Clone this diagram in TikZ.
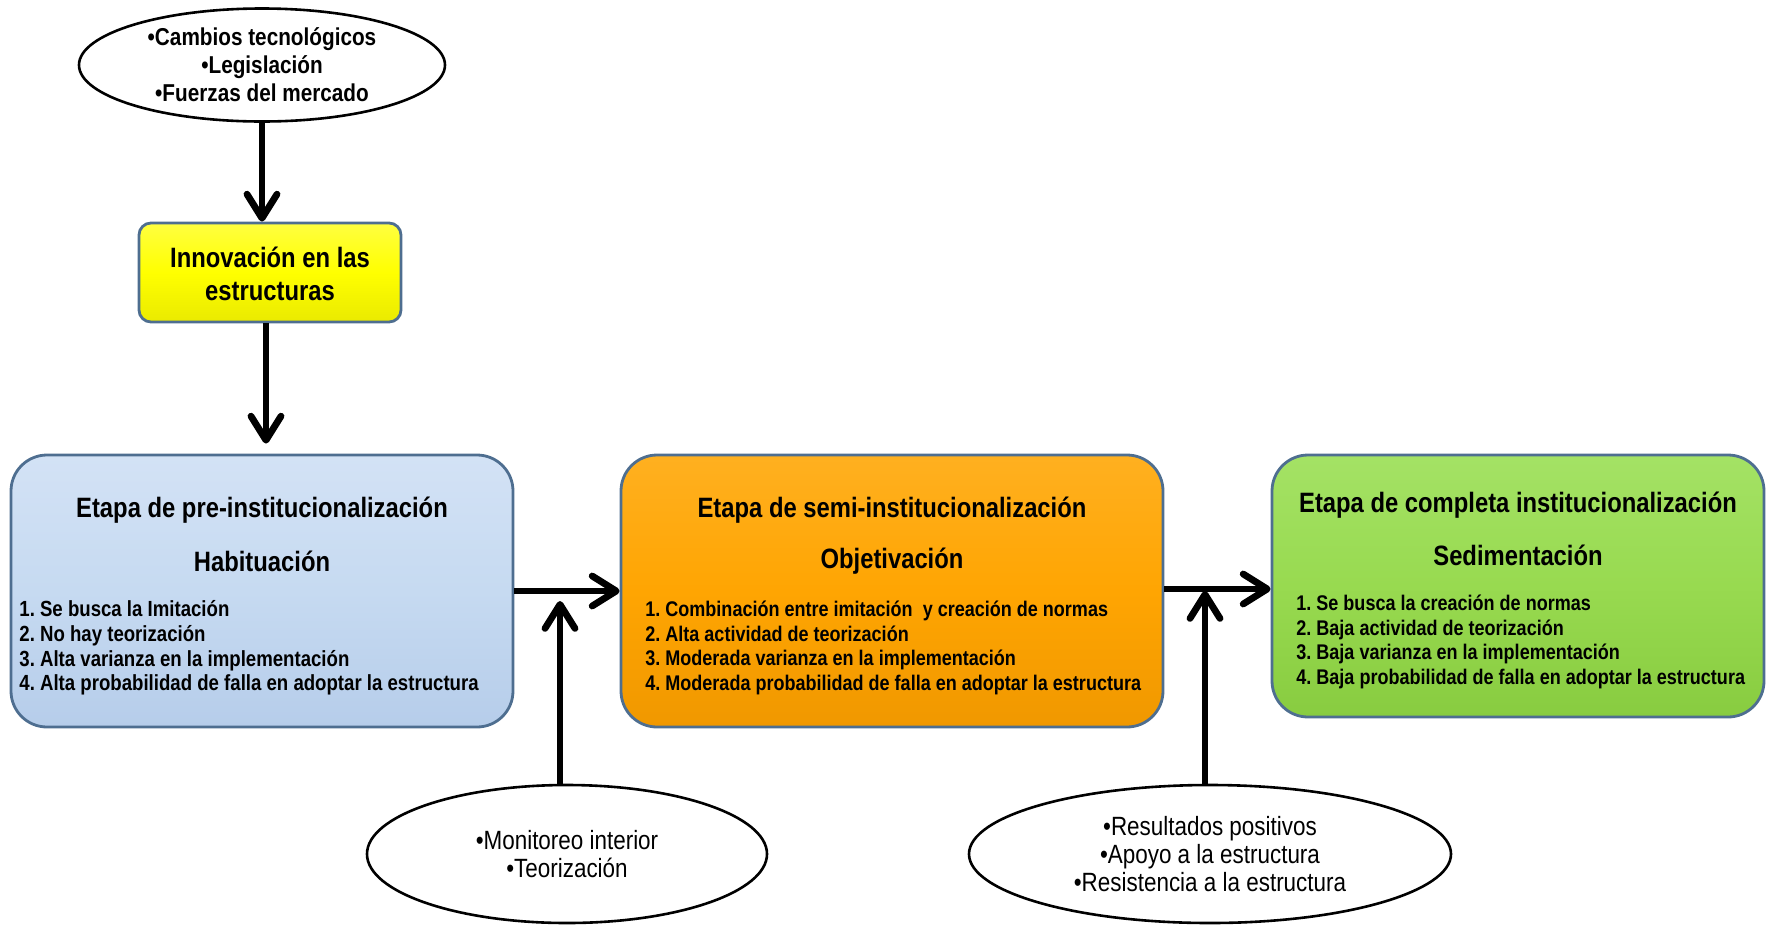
\documentclass[tikz,border=0pt]{standalone}
\usepackage{fontspec}
\setmainfont[FakeStretch=0.85]{Liberation Sans}
\usetikzlibrary{arrows.meta,shapes.geometric}
\frenchspacing

\definecolor{edgeblue}{HTML}{4E6E90}
\definecolor{blueA}{HTML}{D3E2F5}
\definecolor{blueB}{HTML}{C6DAF1}
\definecolor{blueC}{HTML}{B6CDEA}
\definecolor{orangeA}{HTML}{FFB020}
\definecolor{orangeB}{HTML}{FFA502}
\definecolor{orangeC}{HTML}{F09800}
\definecolor{greenA}{HTML}{A4E265}
\definecolor{greenB}{HTML}{98DA50}
\definecolor{greenC}{HTML}{88CC40}
\definecolor{yellowA}{HTML}{FFFF40}
\definecolor{yellowB}{HTML}{FFFF00}
\definecolor{yellowC}{HTML}{EAEA00}

\begin{document}
\begin{tikzpicture}[x=0.5pt,y=-0.5pt,
  stagebox/.style={draw=edgeblue, line width=1.4pt, rounded corners=18pt, inner sep=0pt},
  notebox/.style={draw=edgeblue, line width=1.4pt, rounded corners=6pt, inner sep=0pt},
  bubble/.style={ellipse, draw=black, line width=1.3pt, fill=white, inner sep=0pt},
  heading/.style={inner sep=0pt, font=\fontsize{14}{16}\selectfont\bfseries},
  items/.style={inner sep=0pt, align=left, font=\fontsize{#1}{12.4}\selectfont\bfseries},
  topnote/.style={align=center, inner sep=0pt, font=\fontsize{12.2}{14}\selectfont\bfseries},
  lownote/.style={align=center, inner sep=0pt, font=\fontsize{13.2}{14.2}\selectfont},
  arr/.style={line width=3.4pt, -{Straight Barb[length=12pt,width=15pt,round]}}
]
\useasboundingbox (0,0) rectangle (1767,927);

% external drivers
\node[bubble, minimum width=183pt, minimum height=56.5pt,
      label={[topnote]center:•Cambios tecnológicos\\•Legislación\\•Fuerzas del mercado}]
      (drivers) at (262,65) {};

% innovation box
\node[notebox, top color=yellowA, bottom color=yellowC, middle color=yellowB,
      minimum width=131pt, minimum height=49.5pt] (innov) at (270,272.5) {};
\node[align=center, inner sep=0pt, font=\fontsize{14}{16.5}\selectfont\bfseries]
      (innovt) at (270,274) {Innovación en las\\estructuras};

% stage 1
\node[stagebox, top color=blueA, bottom color=blueC, middle color=blueB,
      minimum width=251pt, minimum height=136pt] (pre) at (262,591) {};
\node[heading] (pret) at (262,510) {Etapa de pre-institucionalización};
\node[heading] (pres) at (262,561) {Habituación};
\node[items=10.95, anchor=west] (prel) at (19,648)
  {1. Se busca la Imitación\\2. No hay teorización\\3. Alta varianza en la implementación\\4. Alta probabilidad de falla en adoptar la estructura};

% stage 2
\node[stagebox, top color=orangeA, bottom color=orangeC, middle color=orangeB,
      minimum width=271pt, minimum height=136pt] (semi) at (892,591) {};
\node[heading] (semit) at (892,510) {Etapa de semi-institucionalización};
\node[heading] (semis) at (892,561) {Objetivación};
\node[items=10.6, anchor=west] (semil) at (645,648)
  {1. Combinación entre imitación~ y creación de normas\\2. Alta actividad de teorización\\3. Moderada varianza en la implementación\\4. Moderada probabilidad de falla en adoptar la estructura};

% stage 3
\node[stagebox, top color=greenA, bottom color=greenC, middle color=greenB,
      minimum width=246pt, minimum height=131pt] (full) at (1518,586) {};
\node[heading] (fullt) at (1518,505) {Etapa de completa institucionalización};
\node[heading] (fulls) at (1518,555) {Sedimentación};
\node[items=10.6, anchor=west] (fulll) at (1296,642)
  {1. Se busca la creación de normas\\2. Baja actividad de teorización\\3. Baja varianza en la implementación\\4. Baja probabilidad de falla en adoptar la estructura};

% lower influences
\node[bubble, minimum width=200pt, minimum height=69pt,
      label={[lownote]center:•Monitoreo interior\\•Teorización}]
      (monit) at (567,854) {};
\node[bubble, minimum width=241pt, minimum height=69pt,
      label={[lownote]center:•Resultados positivos\\•Apoyo a la estructura\\•Resistencia a la estructura}]
      (results) at (1210,854) {};

% junctions on the horizontal connectors
\coordinate (j1) at (560,591);
\coordinate (j2) at (1205,589);

% connectors
\draw[arr] (drivers.south) -- (drivers.south |- innov.north);
\draw[arr, shorten >=5pt] ([xshift=-2pt]innov.south) -- ([xshift=-2pt]innov.south |- pre.north);
\draw[arr] (pre.east) -- (semi.west);
\draw[arr] (semi.east |- j2) -- (j2 -| full.west);
\draw[arr, shorten >=5pt] (monit.north -| j1) -- (j1);
\draw[arr, shorten >=1pt] (results.north -| j2) -- (j2);
\end{tikzpicture}
\end{document}
